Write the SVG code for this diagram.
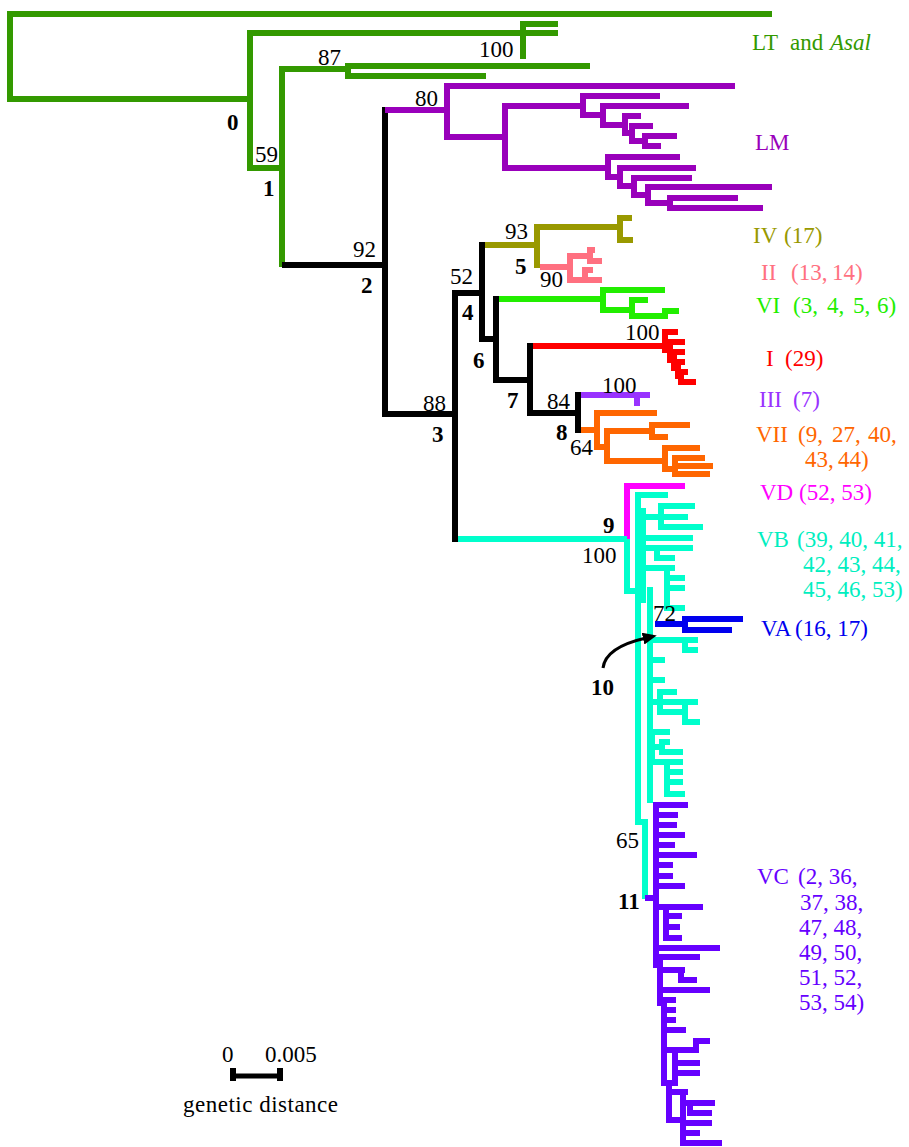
<svg xmlns="http://www.w3.org/2000/svg" width="909" height="1147" viewBox="0 0 909 1147">
  <defs>
    <style>
      .h { fill: none; stroke-width: 6; stroke-linecap: butt; }
      .v { fill: none; stroke-width: 6; stroke-linecap: square; }
      .t { font-family: "Liberation Serif", "Times New Roman", serif; font-size: 23px; }
      .bs { font-family: "Liberation Serif", "Times New Roman", serif; font-size: 23px; fill: #000; }
      .nd { font-family: "Liberation Serif", "Times New Roman", serif; font-size: 23px; font-weight: bold; fill: #000; }
      .grn { stroke: #339900; } .lm { stroke: #9900bb; } .blk { stroke: #000; }
      .olv { stroke: #999900; } .pnk { stroke: #ff7080; } .vi { stroke: #22ee00; }
      .red { stroke: #ff0000; } .iii { stroke: #9933ff; } .org { stroke: #ff6600; }
      .mag { stroke: #ff00ff; } .tq { stroke: #00ffcc; } .blu { stroke: #0000ee; }
      .vio { stroke: #6600ff; }
    </style>
    <marker id="arrowhead" markerUnits="userSpaceOnUse" markerWidth="14" markerHeight="12" refX="3" refY="6" orient="auto">
      <path d="M0,0 L14,6 L0,12 z" fill="#000"/>
    </marker>
  </defs>
  <rect width="909" height="1147" fill="#fff"/>

  <g id="connectors">
    <!-- outgroup and LT / Asal -->
    <path class="h grn" d="M7,14 H772 M7,99 H250 M250,33 H558 M523,24 H558 M250,168 H282 M282,69 H348 M348,66 H590 M348,76 H486"/>
    <path class="v grn" d="M10,14 V99 M250,33 V168 M523,24 V56 M282,69 V264 M348,66 V76"/>
    <!-- backbone -->
    <path class="h blk" d="M282,265 H385 M385,414 H455 M455,293 H482 M482,339 H496 M496,380 H530 M530,413 H578"/>
    <path class="v blk" d="M385,110 V414 M455,293 V539 M482,245 V339 M496,299 V380 M530,346 V413 M578,395 V430"/>
    <!-- LM -->
    <path class="h lm" d="M385,110 H447 M447,86 H735 M447,137 H505 M505,106 H583 M583,96 H660 M583,115 H603 M603,106 H689 M603,125 H625 M625,116 H641 M625,133 H632 M632,126 H653 M632,141 H645 M645,136 H677 M645,146 H661 M505,168 H608 M608,157 H680 M608,177 H620 M620,168 H696 M620,186 H634 M634,178 H692 M634,195 H648 M648,187 H772 M648,203 H670 M670,198 H738 M670,208 H763"/>
    <path class="v lm" d="M447,86 V137 M505,106 V168 M583,96 V115 M603,106 V125 M625,116 V133 M632,126 V141 M645,136 V146 M608,157 V177 M620,168 V186 M634,178 V195 M648,187 V203 M670,198 V208"/>
    <!-- IV -->
    <path class="h olv" d="M485,245 H537 M537,227 H620 M620,218 H632 M620,240 H633"/>
    <path class="v olv" d="M537,227 V265 M620,218 V240"/>
    <!-- II -->
    <path class="h pnk" d="M540,267 H570 M570,256 H590 M590,250 H595 M590,261 H602 M570,280 H602 M585,270 H593"/>
    <path class="v pnk" d="M570,256 V280 M590,250 V261 M585,270 V280"/>
    <!-- VI -->
    <path class="h vi" d="M499,299 H603 M603,290 H665 M603,310 H632 M632,300 H648 M632,316 H665 M665,311 H679"/>
    <path class="v vi" d="M603,290 V310 M632,300 V316 M665,311 V316"/>
    <!-- I -->
    <path class="h red" d="M533,346 H665 M665,332 H678 M665,342 H685 M670,352 H685 M674,362 H685 M678,372 H688 M681,382 H696"/>
    <path class="v red" d="M665,332 V350 M670,348 V360 M674,356 V368 M678,362 V376 M681,372 V382"/>
    <!-- III -->
    <path class="h iii" d="M581,395 H650"/>
    <path class="v iii" d="M637,395 V403"/>
    <!-- VII -->
    <path class="h org" d="M581,430 H597 M597,413 H657 M597,447 H607 M607,431 H652 M652,425 H690 M652,437 H668 M607,461 H665 M665,448 H700 M665,469 H675 M675,458 H705 M675,466 H713 M675,474 H710"/>
    <path class="v org" d="M597,413 V447 M607,431 V461 M652,425 V437 M665,448 V469 M675,458 V474"/>
    <!-- VD -->
    <path class="h mag" d="M627,486 H685"/>
    <path class="v mag" d="M627,486 V536"/>
    <!-- VB -->
    <path class="h tq" d="M458,539 H627 M627,591 H638 M638,495 H668 M643,517 H661 M661,506 H695 M661,517 H688 M661,527 H703 M643,538 H693 M643,548 H693 M657,558 H675 M643,568 H675 M667,578 H685 M667,588 H685 M667,608 H685 M650,640 H698 M685,650 H698 M650,660 H665 M650,680 H665 M650,702 H660 M660,692 H677 M660,702 H698 M660,712 H685 M685,722 H700 M652,732 H670 M652,747 H662 M662,742 H670 M662,752 H683 M652,762 H683 M667,772 H683 M667,782 H683 M667,794 H685 M638,822 H645"/>
    <path class="v tq" d="M627,542 V591 M638,495 V822 M643,511 V600 M650,590 V800 M661,506 V527 M657,548 V558 M667,568 V608 M685,640 V650 M660,692 V712 M685,702 V722 M652,732 V762 M662,742 V752 M667,762 V794 M645,822 V896"/>
    <!-- VA -->
    <path class="h blu" d="M655,624 H685 M685,619 H743 M685,630 H732"/>
    <path class="v blu" d="M685,619 V630"/>
    <!-- VC -->
    <path class="h vio" d="M645,898 H656 M656,805 H688 M656,815 H678 M656,825 H677 M656,835 H685 M656,845 H675 M656,855 H697 M656,865 H673 M656,876 H673 M656,886 H685 M656,907 H703 M666,916 H682 M666,927 H680 M666,938 H682 M656,948 H720 M656,957 H700 M660,970 H685 M681,980 H697 M660,990 H710 M664,1000 H676 M664,1010 H676 M664,1020 H676 M664,1030 H686 M664,1050 H696 M696,1041 H710 M675,1063 H700 M675,1073 H700 M664,1083 H676 M669,1092 H688 M683,1103 H715 M690,1113 H712 M683,1123 H712 M683,1133 H700 M683,1143 H722 M669,1120 H683"/>
    <path class="v vio" d="M656,805 V965 M666,907 V938 M660,957 V1003 M681,970 V980 M664,1000 V1083 M696,1041 V1050 M675,1050 V1083 M669,1083 V1120 M683,1092 V1143 M690,1103 V1113"/>
    <!-- pointer to node 10 -->
    <path d="M603,668 C605,652 624,643 646,638" fill="none" stroke="#000" stroke-width="3" marker-end="url(#arrowhead)"/>
  </g>

  <g id="support-values">
    <text class="bs" x="318" y="65">87</text>
    <text class="bs" x="479" y="57">100</text>
    <text class="bs" x="415" y="106">80</text>
    <text class="bs" x="255" y="162">59</text>
    <text class="bs" x="353" y="257">92</text>
    <text class="bs" x="450" y="284">52</text>
    <text class="bs" x="423" y="411">88</text>
    <text class="bs" x="505" y="239">93</text>
    <text class="bs" x="540" y="287">90</text>
    <text class="bs" x="625" y="340">100</text>
    <text class="bs" x="602" y="393">100</text>
    <text class="bs" x="547" y="409">84</text>
    <text class="bs" x="570" y="455">64</text>
    <text class="bs" x="582" y="563">100</text>
    <text class="bs" x="653" y="621">72</text>
    <text class="bs" x="616" y="848">65</text>
  </g>

  <g id="node-numbers">
    <text class="nd" x="227" y="130">0</text>
    <text class="nd" x="263" y="196">1</text>
    <text class="nd" x="361" y="293">2</text>
    <text class="nd" x="432" y="442">3</text>
    <text class="nd" x="462" y="320">4</text>
    <text class="nd" x="515" y="274">5</text>
    <text class="nd" x="473" y="368">6</text>
    <text class="nd" x="507" y="408">7</text>
    <text class="nd" x="556" y="440">8</text>
    <text class="nd" x="603" y="533">9</text>
    <text class="nd" x="591" y="695">10</text>
    <text class="nd" x="618" y="909">11</text>
  </g>

  <g id="clade-LT" class="t" fill="#339900">
    <text y="50"><tspan x="752">LT</tspan><tspan x="790">and</tspan><tspan x="830" font-style="italic">Asal</tspan></text>
  </g>
  <g id="clade-LM" class="t" fill="#9900bb">
    <text x="755" y="150">LM</text>
  </g>
  <g id="clade-IV" class="t" fill="#999900">
    <text y="243"><tspan x="753">IV</tspan><tspan x="784">(17)</tspan></text>
  </g>
  <g id="clade-II" class="t" fill="#ff7080">
    <text y="280"><tspan x="761">II</tspan><tspan x="791">(13,</tspan><tspan x="832">14)</tspan></text>
  </g>
  <g id="clade-VI" class="t" fill="#22ee00">
    <text y="313"><tspan x="756">VI</tspan><tspan x="793">(3,</tspan><tspan x="827">4,</tspan><tspan x="853">5,</tspan><tspan x="877">6)</tspan></text>
  </g>
  <g id="clade-I" class="t" fill="#ff0000">
    <text y="366"><tspan x="766">I</tspan><tspan x="785">(29)</tspan></text>
  </g>
  <g id="clade-III" class="t" fill="#9933ff">
    <text y="407"><tspan x="759">III</tspan><tspan x="793">(7)</tspan></text>
  </g>
  <g id="clade-VII" class="t" fill="#ff6600">
    <text y="442"><tspan x="756">VII</tspan><tspan x="798">(9,</tspan><tspan x="832">27,</tspan><tspan x="868">40,</tspan></text>
    <text y="467"><tspan x="805">43,</tspan><tspan x="838">44)</tspan></text>
  </g>
  <g id="clade-VD" class="t" fill="#ff00ff">
    <text y="500"><tspan x="760">VD</tspan><tspan x="799">(52, 53)</tspan></text>
  </g>
  <g id="clade-VB" class="t" fill="#00eec0">
    <text y="547"><tspan x="757">VB</tspan><tspan x="797">(39, 40, 41,</tspan></text>
    <text x="803" y="572">42, 43, 44,</text>
    <text x="803" y="597">45, 46, 53)</text>
  </g>
  <g id="clade-VA" class="t" fill="#0000ee">
    <text y="636"><tspan x="761">VA</tspan><tspan x="795">(16, 17)</tspan></text>
  </g>
  <g id="clade-VC" class="t" fill="#6600ff">
    <text y="884"><tspan x="757">VC</tspan><tspan x="798">(2, 36,</tspan></text>
    <text x="800" y="910">37, 38,</text>
    <text x="799" y="935">47, 48,</text>
    <text x="799" y="960">49, 50,</text>
    <text x="799" y="985">51, 52,</text>
    <text x="799" y="1010">53, 54)</text>
  </g>

  <g id="scale-bar">
    <path d="M233,1076 H280" fill="none" stroke="#000" stroke-width="5"/>
    <path d="M233,1068 V1081 M280,1068 V1081" fill="none" stroke="#000" stroke-width="6"/>
    <text class="bs" x="222" y="1062">0</text>
    <text class="bs" x="265" y="1062">0.005</text>
    <text class="bs" x="183" y="1112" letter-spacing="0.5">genetic distance</text>
  </g>
</svg>
